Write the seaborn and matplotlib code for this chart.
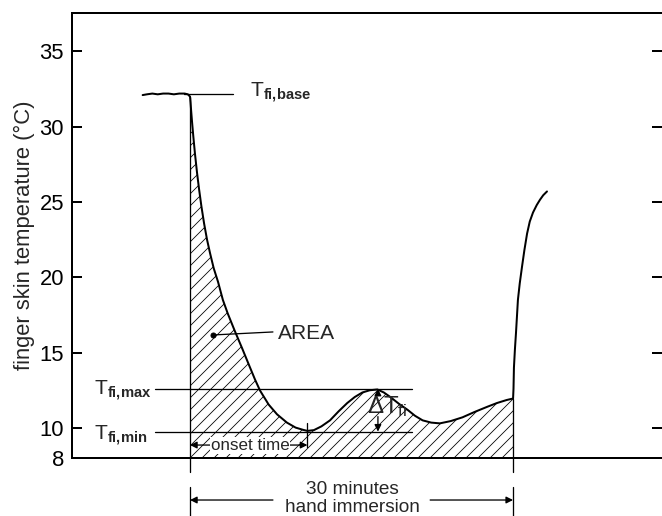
import matplotlib
matplotlib.use('Agg')
import matplotlib.pyplot as plt
import pandas as pd
import seaborn as sns

# courbe de température du doigt (minutes depuis l'immersion, °C)
minutes = [-4.4, -4.0, -3.5, -3.0, -2.5, -2.0, -1.5, -1.0, -0.5, -0.2, 0.0,
           0.05, 0.1, 0.19, 0.3, 0.46, 0.65, 0.84, 1.05, 1.3, 1.58, 1.86, 2.2,
           2.6, 3.05, 3.5, 4.15, 4.83, 5.45, 6.03, 6.5, 7.3, 8.08, 9.0, 9.8,
           10.5, 10.9, 11.5, 12.2, 13.0, 13.8, 14.6, 15.3, 16.0, 16.7, 17.4,
           18.0, 18.6, 19.4, 20.2, 20.9, 21.6, 22.4, 23.2, 24.2, 25.3, 26.4,
           27.6, 28.5, 29.4, 30.0,
           30.04, 30.08, 30.17, 30.27, 30.36, 30.45, 30.62, 30.83, 31.05, 31.3,
           31.55, 31.85, 32.2, 32.5, 32.8, 33.15]
temp = [32.1, 32.15, 32.2, 32.15, 32.2, 32.2, 32.15, 32.2, 32.2, 32.15, 32.0,
        31.6, 31.1, 30.3, 29.4, 28.2, 26.95, 25.85, 24.75, 23.6, 22.5, 21.6, 20.6,
        19.7, 18.5, 17.6, 16.45, 15.3, 14.22, 13.22, 12.48, 11.55, 10.9, 10.35, 10.02,
        9.87, 9.8, 9.85, 10.1, 10.5, 11.1, 11.65, 12.05, 12.35, 12.5, 12.55,
        12.35, 12.05, 11.6, 11.2, 10.8, 10.5, 10.35, 10.3, 10.45, 10.7, 11.05,
        11.4, 11.65, 11.85, 11.95,
        12.6, 14.0, 15.2, 16.3, 17.4, 18.5, 19.6, 20.7, 21.8, 22.9,
        23.7, 24.3, 24.8, 25.15, 25.45, 25.7]

ytick_values = [8, 10, 15, 20, 25, 30, 35]
t_base = 32.2
t_max = 12.6
t_min = 9.75
onset = 10.9
peak_time = 17.45
immersion_end = 30

sns.set_theme(style='ticks')
plt.rcParams['font.family'] = ['Liberation Sans', 'DejaVu Sans']
plt.rcParams['mathtext.fontset'] = 'custom'
plt.rcParams['mathtext.rm'] = 'Liberation Sans'
plt.rcParams['mathtext.bf'] = 'Liberation Sans:bold'
plt.rcParams['mathtext.it'] = 'Liberation Sans:italic'
plt.rcParams['hatch.linewidth'] = 0.8

df = pd.DataFrame({'minutes': minutes, 'temp': temp})
in_water = df[(df.minutes >= 0) & (df.minutes <= immersion_end)]

fig = plt.figure(figsize=(662 / 72, 516 / 72), dpi=72)
ax = fig.add_axes([72 / 662, 58 / 516, 590 / 662, 445 / 516])

# aire hachurée sous la courbe pendant l'immersion
ax.fill_between(in_water.minutes, 8, in_water.temp, facecolor='none',
                edgecolor='black', hatch='//', linewidth=0)
sns.lineplot(data=df, x='minutes', y='temp', sort=False, estimator=None,
             color='black', lw=2, ax=ax)

ax.set_xlim(-10.96, 43.83)
ax.set_ylim(8, 37.55)
ax.set_xticks([])
ax.set_xlabel('')
ax.set_yticks(ytick_values)
ax.set_yticklabels([str(v) for v in ytick_values])
ax.set_ylabel('finger skin temperature (°C)', fontsize=22)
ax.yaxis.set_label_coords(-0.062, 0.5)
ax.tick_params(axis='y', direction='in', length=10, width=2, labelsize=22,
               pad=8, left=True, right=True, colors='black')
ax.spines['right'].set_visible(False)
for s in ['left', 'top', 'bottom']:
    ax.spines[s].set_linewidth(2)
    ax.spines[s].set_color('black')

thin = dict(color='black', lw=1.3)

# lignes de référence
ax.plot([-0.6, 4.0], [t_base, t_base], **thin)
ax.plot([-3.25, 20.6], [t_max, t_max], **thin)
ax.plot([-3.25, 20.6], [t_min, t_min], **thin)
ax.text(5.6, 31.95, r'T$_{\mathbf{fi{,}base}}$', fontsize=21, va='baseline')
ax.text(-8.9, 12.18, r'T$_{\mathbf{fi{,}max}}$', fontsize=21, va='baseline')
ax.text(-8.9, 9.2, r'T$_{\mathbf{fi{,}min}}$', fontsize=21, va='baseline')

# bornes de l'immersion
ax.plot([0, 0], [temp[minutes.index(0.0)], 7.07], clip_on=False, **thin)
ax.plot([immersion_end, immersion_end], [11.95, 7.07], clip_on=False, **thin)
ax.plot([0, 0], [6.07, 3.5], clip_on=False, **thin)
ax.plot([immersion_end, immersion_end], [6.07, 3.5], clip_on=False, **thin)

arrow = dict(arrowstyle='-|>', color='black', lw=1.3, mutation_scale=14,
             shrinkA=0, shrinkB=0)
ax.annotate('', xy=(0, 5.21), xytext=(7.7, 5.21), arrowprops=arrow,
            annotation_clip=False)
ax.annotate('', xy=(immersion_end, 5.21), xytext=(22.3, 5.21),
            arrowprops=arrow, annotation_clip=False)
ax.text(15.1, 5.61, '30 minutes', fontsize=19, ha='center', va='baseline',
        clip_on=False)
ax.text(15.1, 4.41, 'hand immersion', fontsize=19, ha='center',
        va='baseline', clip_on=False)

# temps d'apparition
ax.plot([onset, onset], [10.3, 8.73], **thin)
dbl = dict(arrow, arrowstyle='<|-|>')
ax.annotate('', xy=(0, 8.86), xytext=(onset, 8.86), arrowprops=dbl)
ax.text(5.57, 8.86, 'onset time', fontsize=17, ha='center', va='center',
        bbox=dict(facecolor='white', edgecolor='none', pad=1))

# amplitude
ax.annotate('', xy=(peak_time, t_max), xytext=(peak_time, 12.15),
            arrowprops=arrow)
ax.annotate('', xy=(peak_time, t_min), xytext=(peak_time, 10.75),
            arrowprops=arrow)
ax.text(16.43, 11.0, r'$\Delta$T$_{\mathrm{fi}}$', fontsize=24,
        va='baseline')

# AREA
ax.plot([2.14, 7.7], [16.17, 16.37], **thin)
ax.plot([2.14], [16.17], 'o', color='black', ms=5)
ax.text(8.2, 16.3, 'AREA', fontsize=21, va='center')

fig.savefig('out.png', dpi=72)
